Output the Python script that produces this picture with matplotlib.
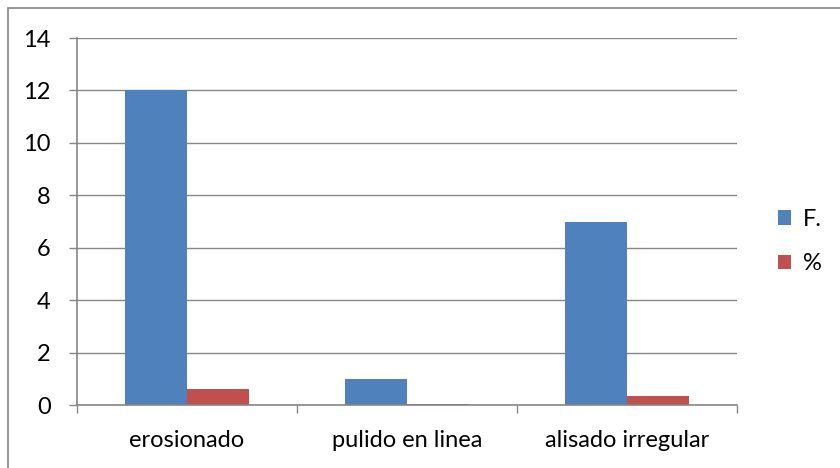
import numpy as np
import matplotlib.pyplot as plt
from matplotlib.patches import Rectangle

categories = ['erosionado', 'pulido en linea', 'alisado irregular']
freq = [12, 1, 7]
pct = [0.6, 0.05, 0.35]
yticks = [0, 2, 4, 6, 8, 10, 12, 14]

plt.rcParams['font.family'] = ['Lato', 'DejaVu Sans']

W, H = 840, 468
fig = plt.figure(figsize=(W / 100, H / 100), dpi=100)

# outer chart border (cut by the image on right/bottom)
fig.patches.append(Rectangle((8 / W, -0.05), 1.1, 1 - 8 / H + 0.05,
                             transform=fig.transFigure, fill=False,
                             edgecolor='#8c8c8c', linewidth=1.3))

ax = fig.add_axes([77 / W, 1 - 405 / H, (737 - 77) / W, (405 - 38) / H])

x = np.arange(len(categories))
bw = 0.282
ax.bar(x - bw / 2, freq, bw, color='#4f81bd', label='F.', zorder=2)
ax.bar(x + bw / 2, pct, bw, color='#c0504d', label='%', zorder=2)

ax.set_xlim(-0.5, len(categories) - 0.5)
ax.set_ylim(0, 14)
ax.set_yticks(yticks)
ax.grid(axis='y', color='#868686', linewidth=1, zorder=0)
ax.set_xticks(np.arange(len(categories) + 1) - 0.5, minor=False)
ax.set_xticklabels([])
ax.set_xticks(x, minor=True)
ax.set_xticklabels(categories, minor=True, fontsize=17)
ax.tick_params(axis='x', which='minor', length=0, pad=18)
ax.tick_params(axis='x', which='major', length=6, color='#868686', width=1)
ax.tick_params(axis='y', length=6, color='#868686', width=1, labelsize=17, pad=13)

for s in ['top', 'right']:
    ax.spines[s].set_visible(False)
for s in ['left', 'bottom']:
    ax.spines[s].set_color('#868686')
    ax.spines[s].set_linewidth(1.2)

ax.legend(loc='center left', bbox_to_anchor=(1.03, 0.445), frameon=False,
          fontsize=17, handlelength=0.55, handleheight=0.55, labelspacing=1.0,
          handletextpad=0.5)

fig.savefig('out.png', dpi=100)
